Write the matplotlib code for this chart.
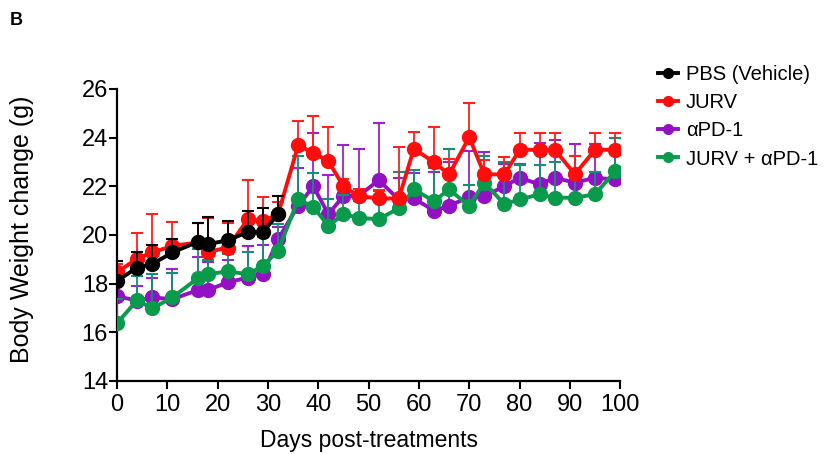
import matplotlib.pyplot as plt
import numpy as np

plt.rcParams['font.family'] = ['Liberation Sans', 'DejaVu Sans']

# Days post-treatment (measurement days)
days = [0, 4, 7, 11, 16, 18, 22, 26, 29, 32, 36, 39, 42, 45, 48, 52, 56, 59,
        63, 66, 70, 73, 77, 80, 84, 87, 91, 95, 99]

# PBS group stops after day 32
pbs = [18.11, 18.66, 18.80, 19.28, 19.71, 19.62, 19.78, 20.12, 20.12, 20.85]
pbs_err = [0.80, 0.65, 0.80, 0.55, 0.80, 1.10, 0.80, 0.85, 1.00, 0.75]

jurv = [18.46, 19.03, 19.28, 19.55, 19.69, 19.30, 19.48, 20.64, 20.57, 20.85,
        23.68, 23.38, 23.03, 22.00, 21.60, 21.50, 21.50, 23.54, 22.99, 22.49,
        24.02, 22.49, 22.49, 23.50, 23.50, 23.50, 22.50, 23.50, 23.50]
jurv_err = [0.35, 1.05, 1.60, 1.00, 0.80, 1.40, 1.00, 1.60, 1.00, 0.50,
            1.00, 1.50, 1.40, 0.30, 0.30, 0.30, 2.10, 0.70, 1.45, 0.65,
            1.40, 0.60, 0.70, 0.70, 0.70, 0.70, 0.75, 0.70, 0.70]

apd1 = [17.48, 17.30, 17.43, 17.36, 17.73, 17.73, 18.05, 18.25, 18.39, 19.82,
        21.20, 22.00, 20.85, 21.60, 21.60, 22.25, 21.46, 21.50, 21.00, 21.20,
        21.56, 21.60, 22.00, 22.35, 22.08, 22.35, 22.15, 22.35, 22.28]
apd1_err = [1.45, 0.60, 0.80, 1.25, 1.35, 1.15, 0.90, 1.30, 1.20, 0.50,
            1.55, 2.20, 1.60, 2.10, 1.95, 2.35, 0.90, 1.05, 1.60, 1.80,
            1.90, 1.80, 0.90, 0.55, 1.70, 1.55, 1.60, 1.40, 1.70]

combo = [16.37, 17.32, 16.98, 17.43, 18.21, 18.39, 18.50, 18.39, 18.73, 19.34,
         21.46, 21.16, 20.37, 20.85, 20.71, 20.64, 21.10, 21.87, 21.39, 21.87,
         21.19, 22.15, 21.26, 21.46, 21.67, 21.53, 21.53, 21.67, 22.62]
combo_err = [1.00, 1.00, 1.40, 1.00, 1.20, 0.60, 0.70, 0.90, 1.20, 1.10,
             1.80, 1.40, 1.10, 0.80, 0.70, 1.20, 1.50, 0.80, 1.35, 1.65,
             0.85, 1.10, 1.75, 1.40, 1.20, 1.45, 0.90, 0.90, 1.35]

groups = [
    ("PBS (Vehicle)", days[:len(pbs)], pbs, pbs_err, "black", "black", 5),
    ("JURV", days, jurv, jurv_err, "#ff0d0d", "#ff2020", 4),
    ("\u03b1PD-1", days, apd1, apd1_err, "#9410c4", "#a020d0", 2),
    ("JURV + \u03b1PD-1", days, combo, combo_err, "#0a9a4c", "#138f7a", 3),
]

fig = plt.figure(figsize=(8.33, 4.54), dpi=100)
ax = fig.add_axes([0.1405, 0.161, 0.604, 0.643])

for label, x, y, err, col, ecol, z in groups:
    y = np.array(y)
    err = np.array(err)
    ax.errorbar(x, y, yerr=[np.zeros_like(err), err], fmt="none",
                ecolor=ecol, elinewidth=1.3, capsize=4, capthick=1.5, zorder=z)
    ax.plot(x, y, color=col, lw=2.8, marker="o", ms=10, zorder=z + 0.5,
            label=label)

ax.set_xlim(0, 100)
ax.set_ylim(14, 26)
ax.set_xticks(np.arange(0, 101, 10))
ax.set_yticks(np.arange(14, 27, 2))
ax.tick_params(labelsize=17, width=1.5, length=5.5, direction="out")
ax.tick_params(axis="x", pad=4)
ax.tick_params(axis="y", pad=1)
for s in ["top", "right"]:
    ax.spines[s].set_visible(False)
for s in ["left", "bottom"]:
    ax.spines[s].set_linewidth(1.6)

ax.set_xlabel("Days post-treatments", fontsize=16.5, labelpad=9)
ax.set_ylabel("Body Weight change (g)", fontsize=18)
ax.yaxis.set_label_coords(-0.165, 0.52)

handles, labels = ax.get_legend_handles_labels()
fig.legend(handles, labels, loc="upper left", bbox_to_anchor=(0.768, 0.896),
           frameon=False, fontsize=14.5, handlelength=1.0, handletextpad=0.4,
           labelspacing=0.45, markerscale=0.7)

fig.text(0.012, 0.955, "B", fontsize=13, fontweight="bold", va="center")

fig.savefig("out.png", dpi=100)
